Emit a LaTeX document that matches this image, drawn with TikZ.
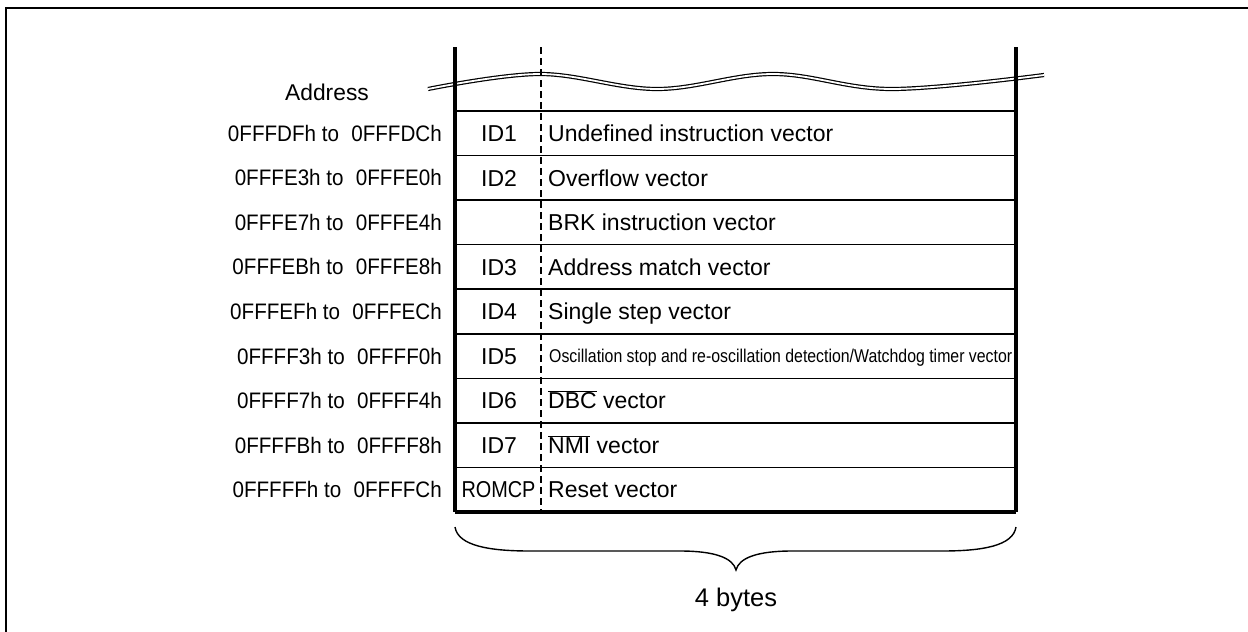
\documentclass[tikz,border=0pt]{standalone}
\usepackage{fontspec}
\setmainfont{Liberation Sans}
\newfontfamily\addrfont{Liberation Sans}[FakeStretch=0.92]
\usepackage{graphicx}
\begin{document}
\begin{tikzpicture}[x=1pt,y=-1pt,
  txt/.style={inner sep=0pt, font=\fontsize{23}{26}\selectfont},
  addr/.style={inner sep=0pt, font=\addrfont\fontsize{22.4}{24}\selectfont, anchor=base east},
  idt/.style={txt, anchor=base},
  desc/.style={txt, anchor=base west},
  border/.style={line width=3.8pt},
  rowline/.style={line width=1.6pt},
  sepline/.style={line width=2.4pt, dash pattern=on 7pt off 4pt},
  wave/.style={line width=1.2pt, double=white, double distance=1.8pt},
  bracestyle/.style={line width=1.4pt}]
\useasboundingbox (0,0) rectangle (1248,632);
\clip (0,0) rectangle (1248,632);
% outer frame
\draw[line width=2.6pt] (1260,8) -- (6,8) -- (6,650);
% table corners
\coordinate (TL) at (455,47);
\coordinate (TR) at (1016,47);
\coordinate (BL) at (455,512);
\coordinate (BR) at (1016,512);
\coordinate (ST) at (541,47);
\coordinate (SB) at (541,512);
% wavy break
\draw[wave] plot[smooth, tension=0.6] coordinates {(428,89) (540,74) (657,89) (773,74) (891,89) (1044,75)};
% row lines
\foreach \i in {0,...,8}{
  \draw[rowline] (455,111+44.55*\i) -- (1016,111+44.55*\i);
}
\draw[border] (BL) -- (BR);
% borders
\draw[border] (TL) -- (BL);
\draw[border] (TR) -- (BR);
\draw[sepline] (ST) -- (SB);
% address header
\node[inner sep=0pt, anchor=base, font=\fontsize{22.8}{26}\selectfont] (addrhead) at (327,100) {Address};
% rows
\foreach \n/\a/\b/\id/\d [count=\i from 0] in {
  r1/0FFFDFh/0FFFDCh/ID1/Undefined instruction vector,
  r2/0FFFE3h/0FFFE0h/ID2/Overflow vector,
  r3/0FFFE7h/0FFFE4h//BRK instruction vector,
  r4/0FFFEBh/0FFFE8h/ID3/Address match vector,
  r5/0FFFEFh/0FFFECh/ID4/Single step vector,
  r6/0FFFF3h/0FFFF0h/ID5/,
  r7/0FFFF7h/0FFFF4h/ID6/$\overline{\mbox{DBC}}$ vector,
  r8/0FFFFBh/0FFFF8h/ID7/$\overline{\mbox{NMI}}$ vector,
  r9/0FFFFFh/0FFFFCh//Reset vector}{
  \node[addr] (\n a) at (442,111+44.55*\i+22.3+8) {\a\ to\hspace{0.55em}\b};
  \node[idt] (\n i) at (499,111+44.55*\i+22.3+8.2) {\id};
  \node[desc] (\n d) at (548,111+44.55*\i+22.3+8.2) {\d};
}
\node[inner sep=0pt, anchor=base] (r9x) at (498.5,111+44.55*8+22.3+8.2)
  {\resizebox{74pt}{\height}{\fontsize{23}{26}\selectfont ROMCP}};
\node[inner sep=0pt, anchor=base west] (r6d) at (549,111+44.55*5+22.3+6.8)
  {\resizebox{463pt}{\height}{\fontsize{18.5}{20}\selectfont Oscillation stop and re-oscillation detection/Watchdog timer vector}};
% brace
\draw[bracestyle] (BL) ++(0,15) .. controls (458,546) and (490,551) .. (530,551) -- (680,551)
  .. controls (715,551) and (733,558) .. (736,570)
  .. controls (739,558) and (757,551) .. (792,551) -- (942,551)
  .. controls (982,551) and (1013,546) .. (1016,527);
\node[inner sep=0pt, anchor=base, font=\fontsize{25.5}{28}\selectfont] (bytes) at (736,606) {4 bytes};
\end{tikzpicture}
\end{document}
